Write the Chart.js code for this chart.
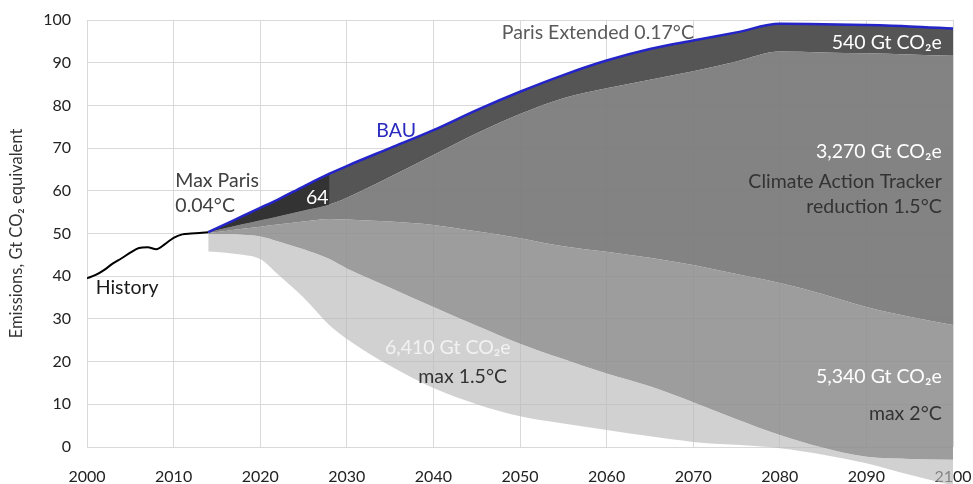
<!DOCTYPE html>
<html>
<head>
<meta charset="utf-8">
<title>Emission pathways to 2100</title>
<script src="https://cdn.jsdelivr.net/npm/chart.js@4.4.1/dist/chart.umd.min.js"></script>
<style>
  html, body { margin: 0; padding: 0; background: #ffffff; }
  #wrap { width: 973px; height: 484px; }
</style>
</head>
<body>
<div id="wrap"><canvas id="chart" width="973" height="484"></canvas></div>
<script>
// Historical emissions, Gt CO2e
const histYears  = [2000, 2001, 2002, 2003, 2004, 2005, 2006, 2007, 2008, 2009, 2010, 2011, 2012, 2013, 2014];
const histValues = [39.5, 40.3, 41.5, 43.0, 44.2, 45.5, 46.6, 46.8, 46.3, 47.5, 49.0, 49.8, 50.0, 50.1, 50.3];

// Scenario boundaries from 2014 onwards, Gt CO2e
const projYears  = [2014, 2016, 2018, 2020, 2022, 2025, 2028, 2030, 2035, 2040, 2045, 2050, 2055, 2060, 2065, 2070, 2075, 2080, 2085, 2090, 2095, 2100];
const bau        = [50.3, 52.2, 54.1, 56.0, 57.9, 61.0, 64.0, 65.8, 70.0, 74.2, 78.9, 83.2, 87.1, 90.5, 93.2, 95.2, 97.1, 99.1, 99.0, 98.8, 98.5, 98.0];
const parisExt   = [50.4, 51.3, 52.2, 53.1, 54.0, 55.4, 56.8, 58.4, 63.3, 68.4, 73.5, 78.0, 81.7, 84.0, 86.0, 88.0, 90.3, 92.6, 92.4, 92.2, 91.9, 91.6];
const catPath    = [50.2, 50.6, 51.1, 51.6, 52.1, 52.8, 53.4, 53.3, 52.8, 52.0, 50.5, 48.9, 47.0, 45.7, 44.3, 42.6, 40.5, 38.4, 35.8, 32.8, 30.5, 28.6];
const max2Path   = [49.8, 49.8, 49.7, 49.3, 48.2, 46.3, 44.0, 41.8, 37.3, 32.8, 28.4, 24.2, 20.6, 17.2, 14.2, 10.5, 6.5, 2.8, -0.2, -2.3, -2.8, -3.0];
const max15Path  = [45.8, 45.5, 45.0, 44.0, 40.5, 35.0, 28.5, 25.3, 19.0, 13.8, 10.0, 7.2, 5.5, 4.0, 2.5, 1.2, 0.5, -0.3, -1.8, -3.8, -6.5, -9.0];
const maxParisEnd = 2028;

const FONT = "Lato, 'Noto Sans', 'DejaVu Sans', sans-serif";

const pts = (xs, ys) => xs.map((x, i) => ({ x: x, y: ys[i] }));
const bauPts = pts(projYears, bau);

// Band fills: each boundary fills down to the one below it
const band = (label, data, fill, color, order) => ({
  label, data, fill, backgroundColor: color,
  borderColor: 'rgba(0,0,0,0)', borderWidth: 0, pointRadius: 0,
  cubicInterpolationMode: 'monotone', order: order,
  clip: { left: 0, right: 0, top: 0, bottom: 60 }
});

const datasets = [
  band('max 1.5°C floor', pts(projYears, max15Path), false, 'rgba(0,0,0,0)', 1),
  band('max 1.5°C', pts(projYears, max2Path), '-1', 'rgba(185,185,185,0.65)', 1),
  band('max 2°C', pts(projYears, catPath), '-1', 'rgba(140,140,140,0.85)', 1),
  band('Climate Action Tracker', pts(projYears, parisExt), '-1', 'rgba(122,122,122,0.93)', 1),
  band('Paris Extended', bauPts, 3, 'rgba(80,80,80,0.97)', 1),
  band('Max Paris', bauPts.filter(p => p.x <= maxParisEnd), 3, '#333333', 0.5),
  {
    label: 'BAU', data: bauPts, fill: false, borderColor: '#2424c8', borderWidth: 2.5,
    pointRadius: 0, cubicInterpolationMode: 'monotone', order: 0
  },
  {
    label: 'History', data: pts(histYears, histValues), fill: false, borderColor: '#000000', borderWidth: 2,
    pointRadius: 0, cubicInterpolationMode: 'monotone', order: 0
  }
];

// Text placed in data coordinates
const notes = [
  { text: 'History', x: 2001.0, y: 37.2, align: 'left', color: '#1a1a1a' },
  { text: 'Max Paris', x: 2010.2, y: 62.3, align: 'left', color: '#404040' },
  { text: '0.04°C', x: 2010.2, y: 56.4, align: 'left', color: '#404040' },
  { text: '64', x: 2026.6, y: 58.3, align: 'center', color: '#ffffff' },
  { text: 'BAU', x: 2035.7, y: 74.0, align: 'center', color: '#2a2ac0' },
  { text: 'Paris Extended 0.17°C', x: 2047.9, y: 97.0, align: 'left', color: '#5a5a5a' },
  { text: '540 Gt CO₂e', x: 2098.7, y: 94.6, align: 'right', color: '#ffffff' },
  { text: '3,270 Gt CO₂e', x: 2098.7, y: 69.1, align: 'right', color: '#ffffff' },
  { text: 'Climate Action Tracker', x: 2098.7, y: 62.1, align: 'right', color: '#333333' },
  { text: 'reduction 1.5°C', x: 2098.7, y: 56.2, align: 'right', color: '#333333' },
  { text: '6,410 Gt CO₂e', x: 2034.4, y: 23.2, align: 'left', color: '#f2f2f2' },
  { text: 'max 1.5°C', x: 2048.5, y: 16.4, align: 'right', color: '#333333' },
  { text: '5,340 Gt CO₂e', x: 2098.7, y: 16.4, align: 'right', color: '#ffffff' },
  { text: 'max 2°C', x: 2098.7, y: 7.7, align: 'right', color: '#333333' }
];

// Let the bands run below the zero line, then write the annotations
const bandsAndNotes = {
  id: 'bandsAndNotes',
  beforeDatasetsDraw(chart) {
    const a = chart.chartArea;
    this._bottom = a.bottom;
    a.bottom = chart.height;
    a.height = a.bottom - a.top;
  },
  afterDatasetsDraw(chart) {
    const a = chart.chartArea;
    a.bottom = this._bottom;
    a.height = a.bottom - a.top;
    const ctx = chart.ctx;
    const xs = chart.scales.x, ys = chart.scales.y;
    ctx.save();
    ctx.font = '19.5px ' + FONT;
    ctx.textBaseline = 'middle';
    notes.forEach(n => {
      ctx.fillStyle = n.color;
      ctx.textAlign = n.align;
      ctx.fillText(n.text, xs.getPixelForValue(n.x), ys.getPixelForValue(n.y));
    });
    ctx.restore();
  }
};

new Chart(document.getElementById('chart'), {
  type: 'line',
  data: { datasets },
  plugins: [bandsAndNotes],
  options: {
    responsive: false,
    animation: false,
    devicePixelRatio: 1,
    layout: { padding: { top: 20, right: 20, bottom: 0, left: 0 } },
    plugins: { legend: { display: false }, tooltip: { enabled: false } },
    scales: {
      x: {
        type: 'linear', min: 2000, max: 2100,
        grid: { color: '#d9d9d9', lineWidth: 1, drawTicks: false },
        border: { display: false },
        ticks: {
          stepSize: 10, padding: 20, color: '#222222', maxRotation: 0, autoSkip: false,
          font: { family: FONT, size: 16 },
          callback: v => String(v)
        },
        afterFit: s => { s.height = 37; s.paddingLeft = 0; s.paddingRight = 0; }
      },
      y: {
        min: 0, max: 100,
        grid: { color: '#d9d9d9', lineWidth: 1, drawTicks: false },
        border: { display: false },
        ticks: { stepSize: 10, padding: 16, color: '#222222', font: { family: FONT, size: 16 } },
        title: {
          display: true, text: 'Emissions, Gt CO₂ equivalent', color: '#333333',
          font: { family: FONT, size: 16.5 }, padding: { top: 7, bottom: 0 }
        },
        afterFit: s => { s.width = 87; s.paddingTop = 0; s.paddingBottom = 0; }
      }
    }
  }
});
</script>
</body>
</html>
